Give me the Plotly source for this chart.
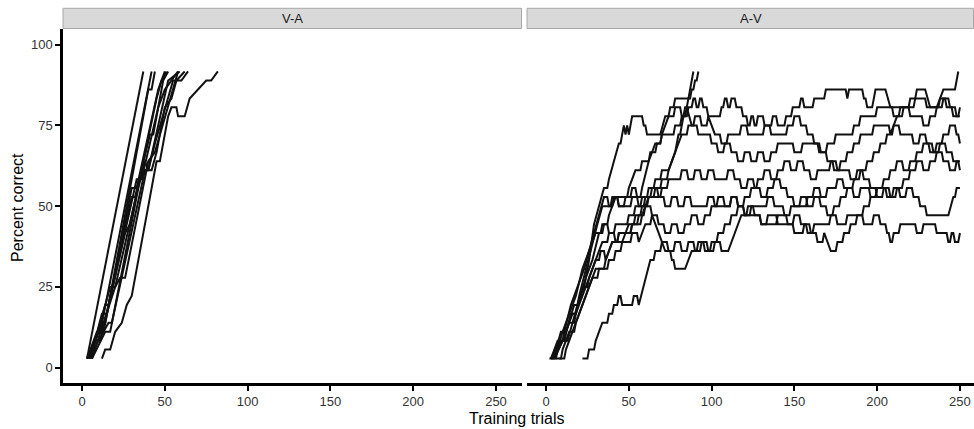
import plotly.graph_objects as go

# Percent correct (moving window of 36 trials) by training trial, one list of
# (trial, percent) vertices per learner.

# ---- V-A condition ----
va_s01 = [(3, 2.8), (37, 91.7)]
va_s02 = [(3, 2.8), (9, 11.1), (11, 11.1), (42, 91.7)]
va_s03 = [(4, 2.8), (12, 13.9), (14, 13.9), (40, 86.1), (42, 86.1), (44, 91.7)]
va_s04 = [(4, 2.8), (10, 11.1), (13, 11.1), (30, 55.6), (33, 55.6), (46, 86.1), (48, 88.9), (51, 91.7)]
va_s05 = [(5, 2.8), (14, 19.4), (16, 19.4), (30, 52.8), (32, 52.8), (41, 72.2), (43, 72.2), (49, 88.9), (52, 91.7)]
va_s06 = [(5, 2.8), (17, 25.0), (20, 25.0), (35, 58.3), (38, 61.1), (40, 61.1), (52, 88.9), (59, 91.7)]
va_s07 = [(6, 2.8), (14, 11.1), (17, 11.1), (34, 55.6), (38, 63.9), (40, 61.1), (44, 69.4), (55, 88.9), (57, 88.9), (62, 91.7)]
va_s08 = [(4, 2.8), (16, 13.9), (18, 13.9), (38, 61.1), (42, 61.1), (45, 66.7), (50, 80.6), (54, 83.3), (57, 88.9), (60, 88.9), (64, 91.7)]
va_s09 = [(12, 2.8), (14, 5.6), (17, 5.6), (20, 11.1), (24, 13.9), (27, 19.4), (30, 22.2), (45, 63.9), (47, 63.9),
          (52, 77.8), (54, 80.6), (57, 80.6), (58, 77.8), (62, 77.8), (65, 83.3), (70, 86.1), (75, 88.9), (78, 88.9), (82, 91.7)]
va_s10 = [(3, 2.8), (8, 8.3), (11, 8.3), (26, 41.7), (29, 44.4), (45, 83.3), (48, 88.9), (50, 91.7)]
va_s11 = [(6, 2.8), (20, 25.0), (23, 27.8), (26, 27.8), (40, 63.9), (44, 66.7), (58, 91.7)]
va_s12 = [(5, 2.8), (12, 16.7), (15, 16.7), (33, 58.3), (36, 58.3), (46, 80.6), (50, 86.1), (58, 91.7)]

# ---- A-V condition (each vertex: value reached at that trial) ----
av_s01 = [(2, 2.8), (6, 5.6), (9, 11.1), (12, 11.1), (16, 16.7), (19, 19.4), (23, 25.0), (26, 33.3), (29, 44.4),
          (32, 50.0), (35, 55.6), (38, 58.3), (41, 63.9), (44, 69.4), (46, 72.2), (47, 75.0), (48, 72.2), (49, 75.0),
          (50, 72.2), (52, 77.8), (57, 77.8), (59, 75.0), (61, 72.2), (69, 72.2), (72, 77.8), (75, 80.6), (78, 83.3),
          (86, 83.3), (88, 88.9), (89, 91.7)]
av_s02 = [(5, 2.8), (10, 8.3), (13, 8.3), (22, 25.0), (26, 27.8), (30, 33.3), (33, 36.1), (36, 33.3), (40, 38.9),
          (44, 41.7), (48, 41.7), (52, 44.4), (58, 47.2), (62, 52.8), (66, 55.6), (70, 58.3), (74, 61.1), (78, 66.7),
          (80, 72.2), (82, 75.0), (84, 80.6), (86, 83.3), (88, 86.1), (90, 88.9), (92, 91.7)]
av_s03 = [(3, 2.8), (8, 8.3), (11, 8.3), (15, 16.7), (18, 16.7), (24, 27.8), (28, 33.3), (32, 41.7), (35, 44.4),
          (38, 47.2), (42, 52.8), (46, 52.8), (50, 55.6), (54, 61.1), (58, 63.9), (63, 66.7), (67, 69.4), (70, 72.2),
          (74, 72.2), (78, 75.0), (82, 77.8), (86, 80.6), (89, 83.3), (91, 80.6), (93, 83.3), (95, 80.6), (98, 77.8),
          (103, 77.8), (106, 80.6), (108, 83.3), (110, 80.6), (112, 83.3), (115, 80.6), (119, 77.8), (122, 75.0),
          (124, 77.8), (126, 75.0), (128, 77.8), (132, 75.0), (137, 77.8), (140, 75.0), (145, 77.8), (149, 80.6),
          (152, 80.6), (154, 83.3), (156, 80.6), (160, 80.6), (162, 83.3), (167, 83.3), (169, 86.1), (181, 86.1),
          (182, 83.3), (183, 86.1), (189, 86.1), (192, 83.3), (194, 80.6), (197, 80.6), (199, 86.1), (205, 86.1),
          (208, 80.6), (222, 80.6), (224, 86.1), (229, 86.1), (232, 80.6), (236, 80.6), (240, 86.1), (247, 86.1),
          (249, 91.7)]
av_s04 = [(4, 2.8), (9, 8.3), (12, 11.1), (17, 19.4), (20, 22.2), (24, 30.6), (28, 38.9), (31, 44.4), (34, 50.0),
          (37, 50.0), (40, 52.8), (44, 50.0), (48, 52.8), (52, 55.6), (55, 52.8), (58, 55.6), (62, 63.9), (66, 69.4),
          (70, 72.2), (74, 77.8), (78, 80.6), (82, 77.8), (85, 80.6), (88, 75.0), (92, 72.2), (96, 72.2), (100, 69.4),
          (104, 66.7), (108, 69.4), (112, 66.7), (116, 63.9), (120, 66.7), (124, 63.9), (128, 66.7), (132, 63.9),
          (136, 66.7), (140, 69.4), (146, 69.4), (150, 66.7), (155, 69.4), (160, 69.4), (165, 66.7), (170, 69.4),
          (175, 72.2), (180, 72.2), (186, 75.0), (190, 77.8), (196, 77.8), (200, 80.6), (206, 80.6), (210, 77.8),
          (214, 80.6), (220, 83.3), (226, 83.3), (230, 80.6), (234, 80.6), (238, 83.3), (242, 80.6), (246, 77.8),
          (250, 80.6)]
av_s05 = [(5, 2.8), (10, 8.3), (14, 13.9), (18, 16.7), (22, 22.2), (26, 27.8), (30, 33.3), (34, 38.9), (38, 41.7),
          (42, 44.4), (46, 44.4), (50, 47.2), (54, 50.0), (58, 52.8), (62, 55.6), (66, 58.3), (70, 61.1), (74, 61.1),
          (78, 66.7), (82, 72.2), (86, 75.0), (90, 77.8), (94, 75.0), (98, 77.8), (102, 72.2), (106, 69.4),
          (110, 72.2), (114, 72.2), (118, 75.0), (122, 72.2), (128, 72.2), (132, 75.0), (136, 72.2), (142, 72.2),
          (146, 75.0), (150, 77.8), (154, 75.0), (158, 72.2), (162, 69.4), (166, 66.7), (170, 63.9), (174, 61.1),
          (178, 63.9), (182, 66.7), (186, 69.4), (190, 72.2), (194, 72.2), (198, 75.0), (204, 75.0), (208, 72.2),
          (212, 77.8), (216, 80.6), (220, 77.8), (224, 77.8), (228, 75.0), (232, 77.8), (236, 80.6), (240, 83.3),
          (244, 80.6), (248, 77.8), (250, 77.8)]
av_s06 = [(6, 2.8), (10, 5.6), (14, 11.1), (18, 13.9), (22, 19.4), (26, 25.0), (30, 30.6), (34, 30.6), (38, 33.3),
          (42, 36.1), (46, 38.9), (50, 44.4), (54, 47.2), (58, 50.0), (62, 52.8), (66, 52.8), (70, 55.6), (74, 58.3),
          (78, 58.3), (82, 61.1), (86, 58.3), (90, 61.1), (94, 58.3), (98, 61.1), (102, 58.3), (106, 58.3),
          (110, 61.1), (114, 58.3), (118, 55.6), (122, 58.3), (126, 55.6), (130, 52.8), (134, 55.6), (138, 58.3),
          (142, 55.6), (146, 52.8), (150, 50.0), (154, 52.8), (158, 50.0), (162, 52.8), (166, 50.0), (170, 47.2),
          (174, 50.0), (178, 52.8), (182, 55.6), (186, 58.3), (190, 61.1), (194, 63.9), (198, 66.7), (202, 69.4),
          (206, 72.2), (210, 75.0), (214, 72.2), (218, 72.2), (222, 69.4), (226, 72.2), (230, 69.4), (234, 66.7),
          (238, 69.4), (242, 66.7), (246, 63.9), (250, 63.9)]
av_s07 = [(3, 2.8), (7, 8.3), (11, 11.1), (15, 19.4), (19, 25.0), (23, 30.6), (26, 36.1), (29, 41.7), (32, 47.2),
          (35, 52.8), (38, 50.0), (41, 52.8), (44, 50.0), (48, 50.0), (52, 52.8), (56, 50.0), (60, 52.8), (64, 55.6),
          (68, 52.8), (72, 50.0), (76, 52.8), (80, 50.0), (84, 52.8), (88, 50.0), (94, 50.0), (98, 52.8), (102, 50.0),
          (108, 50.0), (112, 52.8), (116, 50.0), (120, 47.2), (124, 50.0), (130, 50.0), (134, 52.8), (138, 50.0),
          (144, 47.2), (148, 50.0), (154, 50.0), (158, 52.8), (162, 55.6), (166, 52.8), (170, 55.6), (176, 58.3),
          (180, 55.6), (186, 52.8), (190, 55.6), (196, 52.8), (200, 55.6), (206, 52.8), (210, 55.6), (214, 52.8),
          (218, 55.6), (222, 52.8), (226, 50.0), (230, 47.2), (243, 47.2), (246, 52.8), (248, 55.6), (250, 55.6)]
av_s08 = [(8, 2.8), (12, 5.6), (16, 11.1), (20, 16.7), (24, 22.2), (28, 27.8), (32, 30.6), (36, 33.3), (40, 38.9),
          (44, 41.7), (48, 41.7), (52, 44.4), (56, 47.2), (60, 50.0), (64, 47.2), (68, 44.4), (72, 41.7), (76, 44.4),
          (80, 41.7), (84, 44.4), (88, 47.2), (92, 44.4), (96, 47.2), (100, 50.0), (104, 52.8), (108, 50.0),
          (112, 52.8), (116, 50.0), (120, 47.2), (126, 47.2), (130, 44.4), (134, 47.2), (140, 44.4), (146, 44.4),
          (150, 47.2), (154, 44.4), (158, 41.7), (162, 44.4), (168, 44.4), (172, 47.2), (176, 44.4), (182, 47.2),
          (188, 47.2), (192, 44.4), (198, 47.2), (202, 44.4), (206, 41.7), (208, 38.9), (210, 41.7), (214, 44.4),
          (220, 44.4), (224, 41.7), (228, 44.4), (232, 44.4), (236, 41.7), (240, 41.7), (243, 38.9), (245, 41.7),
          (247, 38.9), (250, 41.7)]
av_s09 = [(22, 2.8), (26, 5.6), (30, 8.3), (34, 13.9), (38, 16.7), (41, 19.4), (44, 22.2), (46, 19.4), (50, 19.4),
          (53, 22.2), (56, 19.4), (60, 27.8), (63, 33.3), (66, 36.1), (70, 38.9), (74, 36.1), (78, 38.9), (82, 36.1),
          (86, 38.9), (90, 36.1), (94, 38.9), (98, 36.1), (102, 38.9), (106, 36.1), (110, 36.1), (114, 41.7),
          (118, 47.2), (122, 50.0), (126, 47.2), (130, 44.4), (136, 44.4), (140, 47.2), (146, 44.4), (150, 41.7),
          (156, 44.4), (160, 41.7), (164, 38.9), (168, 41.7), (172, 36.1), (176, 38.9), (180, 41.7), (184, 44.4),
          (188, 47.2), (192, 50.0), (196, 52.8), (200, 55.6), (204, 58.3), (208, 61.1), (212, 63.9), (216, 61.1),
          (220, 63.9), (224, 66.7), (228, 69.4), (232, 66.7), (236, 69.4), (240, 72.2), (244, 75.0), (248, 72.2),
          (250, 69.4)]
av_s10 = [(3, 2.8), (7, 5.6), (10, 11.1), (14, 16.7), (18, 22.2), (22, 30.6), (26, 36.1), (30, 41.7), (34, 44.4),
          (38, 41.7), (42, 38.9), (48, 38.9), (52, 41.7), (56, 38.9), (60, 44.4), (64, 47.2), (68, 41.7), (72, 36.1),
          (76, 33.3), (78, 30.6), (84, 30.6), (88, 36.1), (92, 38.9), (96, 36.1), (100, 38.9), (104, 41.7),
          (108, 44.4), (112, 47.2), (116, 50.0), (120, 52.8), (124, 55.6), (128, 58.3), (132, 61.1), (136, 58.3),
          (140, 61.1), (144, 63.9), (148, 61.1), (152, 63.9), (156, 61.1), (160, 58.3), (164, 61.1), (168, 61.1),
          (172, 63.9), (176, 61.1), (180, 61.1), (184, 58.3), (188, 61.1), (192, 58.3), (196, 55.6), (200, 52.8),
          (204, 55.6), (208, 52.8), (212, 55.6), (216, 58.3), (220, 61.1), (224, 63.9), (228, 61.1), (232, 63.9),
          (236, 66.7), (240, 63.9), (244, 61.1), (248, 63.9), (250, 61.1)]

va_curves = [va_s01, va_s02, va_s03, va_s04, va_s05, va_s06, va_s07, va_s08, va_s09, va_s10, va_s11, va_s12]
av_curves = [av_s01, av_s02, av_s03, av_s04, av_s05, av_s06, av_s07, av_s08, av_s09, av_s10]

panel_labels = ["V-A", "A-V"]
x_ticks = [0, 50, 100, 150, 200, 250]
y_ticks = [0, 25, 50, 75, 100]

ONE_STEP = 100 / 36  # one trial's worth of change in the 36-trial window

W, H = 974, 429
LINE_COLOR = "#111111"
FONT = "Liberation Sans, Arial, sans-serif"

# panel geometry (pixels)
left_dom = (63, 522)
right_dom = (527, 974)
plot_top, plot_bottom = 28.5, 383
strip_top = 8.3


def px_x(v):
    return v / W


def px_y(v):
    return (H - v) / H


def stair_path(curve):
    """Single-step moves happen on one trial: the previous level is held until
    the trial before; multi-step climbs are drawn straight."""
    xs, ys = [curve[0][0]], [curve[0][1]]
    for (t0, v0), (t1, v1) in zip(curve[:-1], curve[1:]):
        if abs(v1 - v0) < ONE_STEP * 1.2 and t1 - t0 > 1 and v1 != v0:
            xs.append(t1 - 1)
            ys.append(v0)
        xs.append(t1)
        ys.append(v1)
    return xs, ys


fig = go.Figure()

for curve in va_curves:
    fig.add_trace(go.Scatter(x=[p[0] for p in curve], y=[p[1] for p in curve], mode="lines",
                             line=dict(color=LINE_COLOR, width=2), xaxis="x", yaxis="y",
                             showlegend=False, hoverinfo="skip"))
for curve in av_curves:
    xs, ys = stair_path(curve)
    fig.add_trace(go.Scatter(x=xs, y=ys, mode="lines",
                             line=dict(color=LINE_COLOR, width=2), xaxis="x2", yaxis="y2",
                             showlegend=False, hoverinfo="skip"))

ydom = [px_y(plot_bottom), px_y(plot_top)]
yrange = [-4.75, 105.0]
tickfont = dict(family=FONT, size=13, color="#333333")

xcommon = dict(tickvals=x_ticks, ticks="outside", ticklen=5, tickwidth=2, tickcolor="#000000",
               showline=True, linecolor="#000000", linewidth=2.5, showgrid=False, zeroline=False,
               tickfont=tickfont)

fig.update_layout(
    width=W, height=H,
    margin=dict(l=0, r=0, t=0, b=0),
    paper_bgcolor="white", plot_bgcolor="white",
    xaxis=dict(domain=[px_x(left_dom[0]), px_x(left_dom[1])], range=[-11.5, 265.7], anchor="y", **xcommon),
    xaxis2=dict(domain=[px_x(right_dom[0]), px_x(right_dom[1])], range=[-11.5, 258.5], anchor="y2", **xcommon),
    yaxis=dict(domain=ydom, range=yrange, anchor="x", tickvals=y_ticks, ticks="outside", ticklen=5,
               tickwidth=2, tickcolor="#000000", showline=True, linecolor="#000000", linewidth=2.5,
               showgrid=False, zeroline=False, tickfont=tickfont),
    yaxis2=dict(domain=ydom, range=yrange, anchor="x2", showticklabels=False, ticks="",
                showline=False, showgrid=False, zeroline=False),
)

# facet strips
for (x0, x1), label in zip([left_dom, right_dom], panel_labels):
    fig.add_shape(type="rect", xref="paper", yref="paper",
                  x0=px_x(x0), x1=px_x(x1 - 0.5), y0=px_y(plot_top), y1=px_y(strip_top),
                  fillcolor="#d9d9d9", line=dict(color="#a8a8a8", width=1), layer="below")
    fig.add_annotation(xref="paper", yref="paper", x=px_x((x0 + x1) / 2), y=px_y((plot_top + strip_top) / 2),
                       text=label, showarrow=False, xanchor="center", yanchor="middle",
                       font=dict(family=FONT, size=13, color="#1a1a1a"))

# axis titles
fig.add_annotation(xref="paper", yref="paper", x=px_x(516), y=px_y(418), text="Training trials",
                   showarrow=False, xanchor="center", yanchor="middle",
                   font=dict(family=FONT, size=16, color="#000000"))
fig.add_annotation(xref="paper", yref="paper", x=px_x(17), y=px_y(208), text="Percent correct",
                   showarrow=False, textangle=-90, xanchor="center", yanchor="middle",
                   font=dict(family=FONT, size=16, color="#000000"))

fig.write_html("out.html")
